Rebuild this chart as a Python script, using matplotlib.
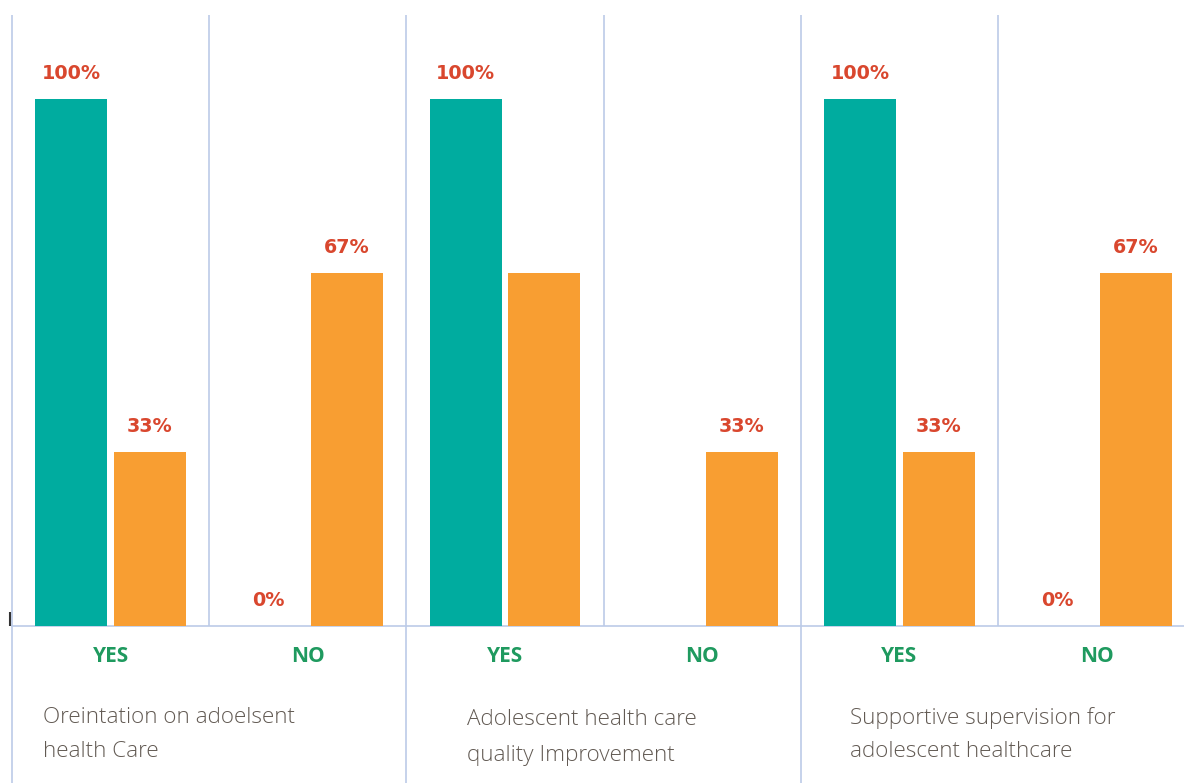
import matplotlib.pyplot as plt
import numpy as np

# data
subgroups = ['YES', 'NO', 'YES', 'NO', 'YES', 'NO']
teal_vals = [100, 0, 100, 0, 100, 0]
orange_vals = [33, 67, 67, 33, 33, 67]
teal_labels = ['100%', '0%', '100%', '', '100%', '0%']
orange_labels = ['33%', '67%', '', '33%', '33%', '67%']
group_titles = [('Oreintation on adoelsent', 'health Care'),
                ('Adolescent health care', 'quality Improvement'),
                ('Supportive supervision for', 'adolescent healthcare')]

teal = '#00ac9f'
orange = '#f89e32'
red = '#d9472e'
green = '#1f9a5f'
grid = '#bccbe8'

plt.rcParams['font.family'] = ['Open Sans', 'DejaVu Sans']

fig = plt.figure(figsize=(11.84, 7.83), dpi=100)
W, H = 1184, 783
# axes: left edge at 12px, one subgroup = 197px, baseline at 626px
ax = fig.add_axes([12 / W, 1 - 626 / H, 6 * 197.2 / W, (626 - 15) / H])
ax.set_xlim(-0.5, 5.5)
ymax = (626 - 15) / 527 * 100
ax.set_ylim(0, ymax)
ax.axis('off')

x = np.arange(len(subgroups))
bw = 0.365
off = 0.2
b1 = ax.bar(x - off, teal_vals, bw, color=teal, zorder=3)
b2 = ax.bar(x + off, orange_vals, bw, color=orange, zorder=3)

# grid lines: group dividers run down through the titles, subgroup dividers stop at the axis
ybot = -(H - 626) / 527 * 100
ax.vlines(np.arange(-0.5, 6.0, 2.0), ybot, ymax, color=grid, lw=1.2, clip_on=False, zorder=1)
ax.vlines(np.arange(0.5, 6.0, 2.0), 0, ymax, color=grid, lw=1.2, clip_on=False, zorder=1)
ax.axhline(0, color=grid, lw=1.2, zorder=2, clip_on=False)
ax.vlines(-0.51, 0, 2.6, color='#333333', lw=1.5, clip_on=False)

for bars, labels in ((b1, teal_labels), (b2, orange_labels)):
    for rect, lab in zip(bars, labels):
        if not lab:
            continue
        ax.text(rect.get_x() + rect.get_width() / 2, rect.get_height() + 4.8, lab,
                ha='center', va='center', fontsize=13.75, fontweight='bold',
                color=red, family='DejaVu Sans')

for i, s in enumerate(subgroups):
    ax.text(i, -5.7, s, ha='center', va='center', fontsize=15,
            fontweight='bold', color=green)

title_x = [-0.343, 1.805, 3.749]
title_y = [(-17.4, -23.9), (-17.8, -24.5), (-17.4, -23.9)]
for tx, ty, lines in zip(title_x, title_y, group_titles):
    for yy, line in zip(ty, lines):
        ax.text(tx, yy, line, ha='left', va='center', fontsize=16.2,
                color='#625a53', fontweight='light')

fig.savefig('out.png', dpi=100)
